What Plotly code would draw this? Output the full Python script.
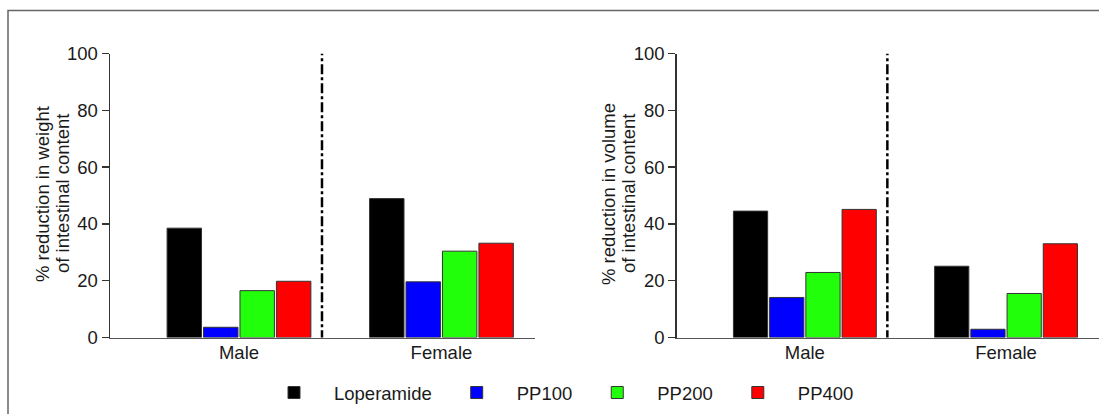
import plotly.graph_objects as go
from plotly.subplots import make_subplots

categories = ["Male", "Female"]
series_names = ["Loperamide", "PP100", "PP200", "PP400"]
colors = ["#000000", "#0000FF", "#22FF0A", "#FF0000"]

weight_values = {
    "Loperamide": [38.5, 48.9],
    "PP100": [3.6, 19.6],
    "PP200": [16.5, 30.4],
    "PP400": [19.8, 33.2],
}
volume_values = {
    "Loperamide": [44.5, 25.1],
    "PP100": [14.1, 2.9],
    "PP200": [22.9, 15.5],
    "PP400": [45.1, 33.0],
}
y_ticks = [0, 20, 40, 60, 80, 100]
weight_title = ["% reduction in weight", "of intestinal content"]
volume_title = ["% reduction in volume", "of intestinal content"]

W, H = 1099, 414
FONT = "Liberation Sans, Arial, sans-serif"
FS = 18.5
TXT = "#1a1a1a"

fig = make_subplots(rows=1, cols=2)

for i, name in enumerate(series_names):
    for col, data in ((1, weight_values), (2, volume_values)):
        fig.add_trace(
            go.Bar(
                x=categories,
                y=data[name],
                name=name,
                legendgroup=name,
                showlegend=(col == 1),
                marker=dict(color=colors[i], line=dict(color="#333333", width=1)),
            ),
            row=1, col=col,
        )

ydom = [(H - 337.5) / H, (H - 53.5) / H]
xrange_ = [-0.637, 1.462]

common_x = dict(
    type="category", range=xrange_, showline=True, linecolor="#555555", linewidth=1.5,
    ticks="", showgrid=False, zeroline=False, automargin=False, ticklabelstandoff=-2,
    tickfont=dict(size=FS, color=TXT, family=FONT),
)
common_y = dict(
    range=[0, 100], tickvals=y_ticks, showline=True, linecolor="#333333", linewidth=1.5,
    ticks="outside", ticklen=7, tickwidth=1.5, tickcolor="#333333",
    showgrid=False, zeroline=False, domain=ydom, automargin=False,
    tickfont=dict(size=FS, color=TXT, family=FONT),
)

# two-line rotated y titles (one annotation per line for tight line spacing)
annotations = []
for title, x_px in ((weight_title, 42), (volume_title, 608)):
    for k, line in enumerate(title):
        annotations.append(dict(
            text=line, xref="paper", yref="paper",
            x=(x_px + 20 * k) / W, y=1 - 194 / H,
            xanchor="center", yanchor="middle", textangle=-90, showarrow=False,
            font=dict(size=FS, color=TXT, family=FONT),
        ))

fig.update_layout(
    template="none",
    xaxis=dict(common_x, domain=[110 / W, 535 / W]),
    xaxis2=dict(common_x, domain=[676.7 / W, 1.0]),
    yaxis=common_y,
    yaxis2=common_y,
    barmode="group",
    bargap=0.28,
    bargroupgap=0.055,
    width=W, height=H,
    margin=dict(l=0, r=0, t=0, b=0, pad=0, autoexpand=False),
    plot_bgcolor="white",
    paper_bgcolor="white",
    font=dict(family=FONT, size=FS, color=TXT),
    legend=dict(
        orientation="h", x=254 / W, xanchor="left", y=1 - 393 / H, yanchor="middle",
        font=dict(size=FS, color=TXT, family=FONT),
        bgcolor="rgba(0,0,0,0)", traceorder="normal", itemwidth=70,
    ),
    annotations=annotations,
    shapes=[
        dict(type="rect", xref="paper", yref="paper", x0=8 / W, x1=1.05, y0=-0.05, y1=1 - 10.5 / H,
             line=dict(color="#666666", width=1.5), fillcolor="rgba(0,0,0,0)", layer="below"),
        dict(type="line", xref="x", yref="y", x0=0.41, x1=0.41, y0=-1, y1=100,
             line=dict(color="#000000", width=2.5, dash="10px,3px,3px,3px")),
        dict(type="line", xref="x2", yref="y2", x0=0.41, x1=0.41, y0=-1, y1=100,
             line=dict(color="#000000", width=2.5, dash="10px,3px,3px,3px")),
    ],
)

fig.write_html(
    "out.html",
    config={"displayModeBar": False, "staticPlot": True},
    post_script="document.body.style.margin='0';",
)
